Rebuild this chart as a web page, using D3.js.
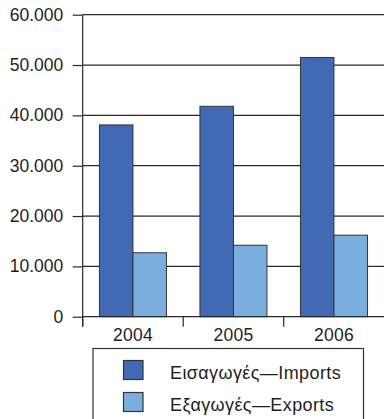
<!DOCTYPE html>
<html><head><meta charset="utf-8">
<script src="https://cdn.jsdelivr.net/npm/d3@7"></script>
<style>body{margin:0;background:#fff}svg{display:block;font-family:"Liberation Sans",Arial,sans-serif}</style>
</head><body><svg id="c" width="384" height="419"></svg>
<script>
const years = ["2004","2005","2006"];
const imports = [38100, 41800, 51500];
const exports = [12700, 14200, 16200];
const yTicks = [0,10000,20000,30000,40000,50000,60000];
const seriesNames = ["Εισαγωγές—Imports","Εξαγωγές—Exports"];
const colors = ["#4169b4","#7aaedf"];

const svg = d3.select("#c");
const x0 = 82.7, x1 = 384.2, yTop = 14.7, yBot = 316.7;
const x = d3.scaleBand().domain(years).range([x0,x1]).paddingInner(1/3).paddingOuter(1/6);
const y = d3.scaleLinear().domain([0,60000]).range([yBot,yTop]);
const fmt = v => v===0 ? "0" : d3.format(",")(v).replace(/,/g,".");
const ink = "#2a2a2a";
const txt = "#1e1e1e";

// gridlines
svg.append("g").selectAll("line").data(yTicks.filter(d=>d>0)).join("line")
  .attr("x1",x0).attr("x2",384).attr("y1",d=>y(d)).attr("y2",d=>y(d))
  .attr("stroke",ink).attr("stroke-width",1.2);

// y axis
const ya = svg.append("g").attr("transform",`translate(${x0},0)`)
  .call(d3.axisLeft(y).tickValues(yTicks).tickFormat(fmt).tickSize(10).tickPadding(9.5));
ya.select(".domain").remove();
ya.selectAll(".tick line").attr("stroke",ink).attr("stroke-width",1.2);
ya.selectAll(".tick text").attr("font-size",17.5).attr("fill",txt).attr("font-family","Liberation Sans, Arial, sans-serif");
svg.append("line").attr("x1",x0).attr("x2",x0).attr("y1",yTop).attr("y2",yBot+10)
  .attr("stroke",ink).attr("stroke-width",1.2);

// bars
const xs = d3.scaleBand().domain([0,1]).range([0,x.bandwidth()]);
const data = years.map((yr,i)=>({yr, vals:[imports[i],exports[i]]}));
svg.append("g").selectAll("g").data(data).join("g")
  .attr("transform",d=>`translate(${x(d.yr)},0)`)
  .selectAll("rect").data(d=>d.vals.map((v,k)=>({v,k}))).join("rect")
  .attr("x",d=>xs(d.k)).attr("width",xs.bandwidth())
  .attr("y",d=>y(d.v)).attr("height",d=>yBot-y(d.v))
  .attr("fill",d=>colors[d.k]).attr("stroke","#333").attr("stroke-width",1);

// x axis
const xa = svg.append("g").attr("transform",`translate(0,${yBot})`)
  .call(d3.axisBottom(x).tickSize(0).tickPadding(11.6));
xa.select(".domain").remove();
xa.selectAll(".tick text").attr("font-size",17.5).attr("fill",txt).attr("letter-spacing",0.3).attr("font-family","Liberation Sans, Arial, sans-serif");
svg.append("line").attr("x1",x0).attr("x2",384).attr("y1",yBot).attr("y2",yBot).attr("stroke",ink).attr("stroke-width",1.2);
const step = x.step();
svg.append("g").selectAll("line").data(years).join("line")
  .attr("x1",d=>x(d)-step/6).attr("x2",d=>x(d)-step/6).attr("y1",yBot).attr("y2",yBot+10)
  .attr("stroke",ink).attr("stroke-width",1.2);

// legend
const lg = svg.append("g");
lg.append("rect").attr("x",93).attr("y",348.5).attr("width",270.5).attr("height",80)
  .attr("fill","none").attr("stroke","#333").attr("stroke-width",1.2);
seriesNames.forEach((n,k)=>{
  const yy = 360.5 + k*32;
  lg.append("rect").attr("x",123.5).attr("y",yy).attr("width",19.5).attr("height",19)
    .attr("fill",colors[k]).attr("stroke","#333").attr("stroke-width",1.2);
  lg.append("text").attr("x",170).attr("y",yy+18.8).attr("font-size",18).attr("letter-spacing",0.4).attr("fill",txt).text(n);
});
</script></body></html>
